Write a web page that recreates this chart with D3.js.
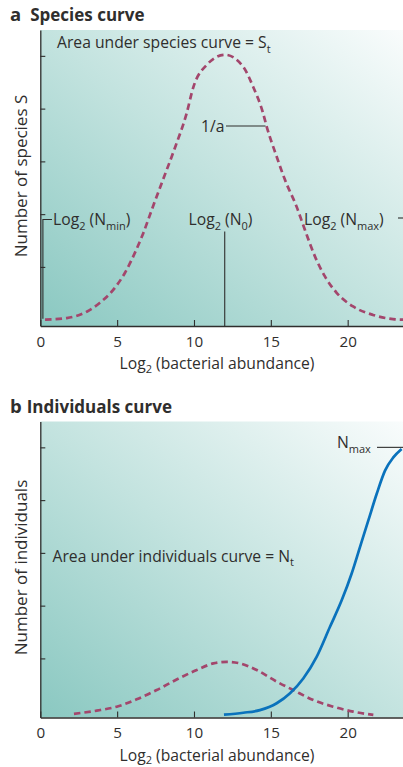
<!DOCTYPE html>
<html>
<head>
<meta charset="utf-8">
<script src="https://cdn.jsdelivr.net/npm/d3@7"></script>
<style>
  body { margin: 0; background: #fff; }
  svg { display: block; font-family: "Open Sans", sans-serif; }
</style>
</head>
<body>
<svg id="figura" width="403" height="767"></svg>
<script>
// ticks de los ejes (el eje y no lleva numeros)
var xTicks = [0, 5, 10, 15, 20];
var yTicks = [1, 2, 3, 4, 5];

// panel a: curva de especies, leida a ojo del dibujo (log2 abundancia -> S)
var especiesX = [0.31, 1.72, 3.02, 3.88, 4.73, 5.51, 6.16, 6.70, 7.25, 7.98, 8.75, 9.53, 9.94, 10.83, 12.02,
  13.19, 13.84, 14.49, 14.73, 15.38, 15.92, 16.68, 17.22, 17.87, 18.52, 19.28, 20.35, 21.65, 22.95, 23.6];
var especiesS = [0.0, 0.03, 0.15, 0.32, 0.56, 0.89, 1.27, 1.64, 2.08, 2.65, 3.25, 3.92, 4.39, 4.83, 5.02,
  4.80, 4.42, 3.92, 3.66, 3.09, 2.65, 2.14, 1.70, 1.20, 0.82, 0.51, 0.25, 0.09, 0.01, 0.0];

// panel b: curva punteada de individuos y curva acumulada (azul)
var individuosX = [2.19, 3.67, 4.97, 6.27, 7.57, 8.87, 10.18, 11.26, 12.13, 13.0, 14.08, 15.38, 16.46, 17.77, 19.06, 20.36, 21.67];
var individuosN = [-0.05, 0.01, 0.085, 0.225, 0.40, 0.60, 0.78, 0.905, 0.935, 0.905, 0.78, 0.56, 0.40, 0.21, 0.085, -0.01, -0.07];
var acumuladoX = [11.95, 13.21, 14.29, 15.38, 16.25, 17.11, 17.98, 18.85, 19.61, 20.26, 20.80, 21.34, 21.89, 22.43, 22.97, 23.51];
var acumuladoN = [-0.066, -0.03, 0.02, 0.15, 0.34, 0.62, 1.03, 1.60, 2.10, 2.61, 3.11, 3.61, 4.12, 4.56, 4.81, 4.97];

var TINTA = "#2f2e2d";
var GRANATE = "#a3466c";
var AZUL = "#0a72bc";
var TAM = 15.7; // tamaño del texto normal

var svg = d3.select("#figura");

// degradado del fondo: teal abajo a la izquierda, casi blanco arriba a la derecha
var grad = svg.append("defs").append("linearGradient")
  .attr("id", "fondo")
  .attr("x1", 0).attr("y1", 1).attr("x2", 1).attr("y2", 0);
grad.append("stop").attr("offset", "0%").attr("stop-color", "#8ac8c1");
grad.append("stop").attr("offset", "50%").attr("stop-color", "#c3e3df");
grad.append("stop").attr("offset", "100%").attr("stop-color", "#f9fcfc");

var x = d3.scaleLinear().domain([0, 23.6]).range([40.3, 403]);

function puntos(xs, ys) {
  return xs.map(function (v, i) { return [v, ys[i]]; });
}

// texto tipo "Log2 (Nmin)": las partes con "_" van de subindice
function textoRico(g, px, py, partes, ancla, bajada) {
  bajada = bajada || 4.5;
  var t = g.append("text")
    .attr("x", px).attr("y", py)
    .attr("fill", TINTA)
    .attr("font-size", TAM)
    .attr("text-anchor", ancla || "start");
  var bajado = false;
  partes.forEach(function (p) {
    var sub = p.charAt(0) === "_";
    var txt = sub ? p.slice(1) : p;
    var s = t.append("tspan").text(txt);
    if (sub && !bajado) { s.attr("dy", bajada); bajado = true; }
    else if (!sub && bajado) { s.attr("dy", -bajada); bajado = false; }
    if (sub) s.attr("font-size", 11);
  });
  return t;
}

function crearPanel(arriba, eje, letra, titulo, tituloY, separacion) {
  var g = svg.append("g");
  var y = d3.scaleLinear().domain([-0.12, 5.49]).range([eje, arriba]);

  g.append("rect")
    .attr("x", x(0)).attr("y", arriba)
    .attr("width", 403 - x(0)).attr("height", eje - arriba)
    .attr("fill", "url(#fondo)");

  var ejeY = d3.axisLeft(y).tickValues(yTicks).tickSizeInner(-5).tickSizeOuter(0).tickFormat("");
  var gy = g.append("g").attr("transform", "translate(" + x(0) + ",0)").call(ejeY);

  var ejeX = d3.axisBottom(x).tickValues(xTicks).tickSizeInner(-6).tickSizeOuter(0).tickPadding(10);
  var gx = g.append("g").attr("transform", "translate(0," + eje + ")").call(ejeX);

  [gx, gy].forEach(function (a) {
    a.select(".domain").attr("stroke", TINTA).attr("stroke-width", 1.3);
    a.selectAll(".tick line").attr("stroke", TINTA).attr("stroke-width", 1.1);
  });
  gx.selectAll(".tick text")
    .attr("fill", TINTA)
    .attr("font-size", 15.2)
    .attr("font-family", "Open Sans, sans-serif");

  // titulo del panel
  var tt = g.append("text").attr("x", 10).attr("y", arriba - 9).attr("fill", TINTA).attr("font-weight", 700);
  tt.append("tspan").attr("font-size", 18.5).text(letra);
  tt.append("tspan").attr("font-size", 17).attr("dx", separacion).text(titulo);

  // titulo del eje x (subindice algo menos bajado para que no se corte abajo)
  textoRico(g, 217, eje + 43, ["Log", "_2", " (bacterial abundance)"], "middle", 3.5);

  // titulo del eje y
  g.append("text")
    .attr("transform", "translate(27," + ((arriba + eje) / 2 - 2) + ") rotate(-90)")
    .attr("text-anchor", "middle")
    .attr("fill", TINTA)
    .attr("font-size", 17)
    .text(tituloY);

  return { g: g, y: y };
}

var linea = function (y) {
  return d3.line()
    .x(function (d) { return x(d[0]); })
    .y(function (d) { return y(d[1]); })
    .curve(d3.curveMonotoneX);
};

// ---------- panel a ----------
var a = crearPanel(30, 326, "a", "Species curve", "Number of species S", 9);

a.g.append("path")
  .datum(puntos(especiesX, especiesS))
  .attr("d", linea(a.y))
  .attr("fill", "none")
  .attr("stroke", GRANATE)
  .attr("stroke-width", 2.7)
  .attr("stroke-dasharray", "6.5,4");

textoRico(a.g, 57, 48, ["Area under species curve = S", "_t"]);

// 1/a con su rayita
textoRico(a.g, 201, 132, ["1/a"]);
a.g.append("line")
  .attr("x1", 226).attr("x2", 265.5)
  .attr("y1", 126).attr("y2", 126)
  .attr("stroke", TINTA).attr("stroke-width", 1.1);

// corchete de Nmin
a.g.append("path")
  .attr("d", "M" + (x(0) + 2.6) + "," + (a.y(0) - 1) + "V219.5H52")
  .attr("fill", "none").attr("stroke", TINTA).attr("stroke-width", 1.1);
textoRico(a.g, 53, 225, ["Log", "_2", " (N", "_min", ")"]);

// N0: linea vertical hasta el eje
a.g.append("line")
  .attr("x1", x(12)).attr("x2", x(12))
  .attr("y1", 231.5).attr("y2", 326)
  .attr("stroke", TINTA).attr("stroke-width", 1.1);
textoRico(a.g, 220.5, 225, ["Log", "_2", " (N", "_0", ")"], "middle");

textoRico(a.g, 304, 225, ["Log", "_2", " (N", "_max", ")"]);
a.g.append("line")
  .attr("x1", 398).attr("x2", 403)
  .attr("y1", 218).attr("y2", 218)
  .attr("stroke", TINTA).attr("stroke-width", 1.1);

// ---------- panel b ----------
var b = crearPanel(421.5, 717.5, "b", "Individuals curve", "Number of individuals", 5);

b.g.append("path")
  .datum(puntos(individuosX, individuosN))
  .attr("d", linea(b.y))
  .attr("fill", "none")
  .attr("stroke", GRANATE)
  .attr("stroke-width", 2.7)
  .attr("stroke-dasharray", "6.5,4");

b.g.append("path")
  .datum(puntos(acumuladoX, acumuladoN))
  .attr("d", linea(b.y))
  .attr("fill", "none")
  .attr("stroke", AZUL)
  .attr("stroke-width", 2.7);

textoRico(b.g, 52.5, 561.5, ["Area under individuals curve = N", "_t"]);

textoRico(b.g, 337, 448, ["N", "_max"]);
b.g.append("line")
  .attr("x1", 377).attr("x2", 403)
  .attr("y1", b.y(5)).attr("y2", b.y(5))
  .attr("stroke", TINTA).attr("stroke-width", 1.1);
</script>
</body>
</html>
